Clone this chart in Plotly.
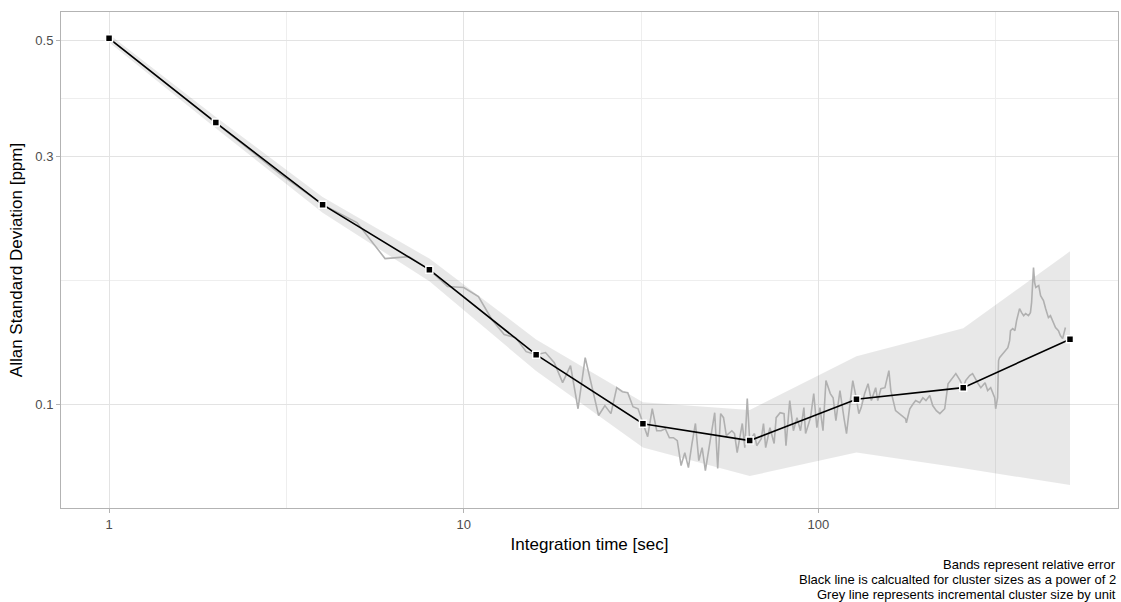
import plotly.graph_objects as go

# Black line: cluster sizes as power of 2
tau_pow2 = [1, 2, 4, 8, 16, 32, 64, 128, 256, 512]
adev_pow2 = [0.505, 0.348, 0.242, 0.1816, 0.1247, 0.0919, 0.0853, 0.1024, 0.1078, 0.1335]
rel_err = [0.018, 0.025, 0.035, 0.05, 0.07, 0.10, 0.145, 0.21, 0.30, 0.475]

# Grey line: incremental cluster size by unit
grey_tau = [1, 2, 3, 4, 5, 6, 7, 8, 9, 10, 11, 12, 13, 14, 15, 16, 17, 18, 19, 20,
            21, 22, 23, 24, 25, 26, 27, 28, 29, 30, 31, 32, 33, 34, 35, 36, 37, 38, 39, 40,
            41, 42, 43, 44, 45, 46, 47, 48, 51, 52, 53, 54, 55, 57, 58, 59, 61, 62, 63, 64,
            66, 67, 69, 70, 71, 73, 75, 76, 78, 80, 81, 83, 85, 87, 89, 91, 92, 95, 97, 99,
            101, 103, 105, 108, 110, 112, 115, 118, 120, 123, 125, 128, 130, 132, 135, 138, 141, 145, 147, 150,
            154, 158, 160, 165, 168, 171, 176, 177, 181, 185, 188, 193, 197, 201, 206, 210, 215, 220, 227, 232,
            236, 244, 251, 256, 260, 267, 272, 278, 282, 287, 295, 300, 306, 314, 316, 320, 322, 324, 331, 337,
            342, 346, 348, 353, 358, 362, 369, 374, 379, 384, 391, 396, 399, 404, 407, 410, 418, 423, 431, 437,
            445, 451, 460, 466, 475, 481, 488, 494, 497]
grey_adev = [0.505, 0.348, 0.279, 0.242, 0.2236, 0.1907, 0.1924, 0.1816, 0.1685, 0.1678, 0.1612, 0.1457, 0.1363, 0.1345, 0.1264, 0.1247, 0.1259, 0.1204, 0.1102, 0.1188,
             0.0982, 0.1231, 0.1078, 0.0953, 0.0996, 0.0961, 0.1078, 0.1059, 0.1054, 0.0991, 0.0982, 0.0919, 0.0868, 0.0982, 0.0891, 0.0891, 0.0899, 0.0864, 0.0864, 0.0853,
             0.0764, 0.0809, 0.0757, 0.0842, 0.0920, 0.0781, 0.0827, 0.0747, 0.0965, 0.0754, 0.0961, 0.0944, 0.0872, 0.0891, 0.0880, 0.0809, 0.0920, 0.0827, 0.1027, 0.0853,
             0.0880, 0.0834, 0.0860, 0.0920, 0.0827, 0.0903, 0.0842, 0.0944, 0.0965, 0.0961, 0.0834, 0.1018, 0.0891, 0.0944, 0.0891, 0.0987, 0.0880, 0.0944, 0.1050, 0.0903,
             0.0987, 0.0891, 0.1112, 0.1050, 0.1031, 0.0932, 0.1064, 0.0944, 0.0880, 0.1018, 0.1112, 0.1024, 0.0961, 0.0987, 0.1050, 0.1097, 0.1018, 0.1078, 0.1018, 0.1073,
             0.1078, 0.1162, 0.1064, 0.0974, 0.0965, 0.0953, 0.0940, 0.0923, 0.0982, 0.1004, 0.1018, 0.1009, 0.1031, 0.1018, 0.1041, 0.0996, 0.0974, 0.0961, 0.0982, 0.1097,
             0.1112, 0.1147, 0.1112, 0.1078, 0.1112, 0.1137, 0.1147, 0.1112, 0.1097, 0.1078, 0.1102, 0.1064, 0.1078, 0.1031, 0.0982, 0.1031, 0.1215, 0.1231, 0.1253, 0.1270,
             0.1286, 0.1327, 0.1387, 0.1400, 0.1387, 0.1450, 0.1529, 0.1502, 0.1482, 0.1496, 0.1482, 0.1502, 0.1570, 0.1833, 0.1715, 0.1678, 0.1692, 0.1619, 0.1584, 0.1529,
             0.1469, 0.1482, 0.1431, 0.1406, 0.1387, 0.1357, 0.1339, 0.1375, 0.1406]

x_ticks = [1, 10, 100]
x_tick_labels = ["1", "10", "100"]
x_minor = [3.1623, 31.623, 316.23]
y_ticks = [0.1, 0.3, 0.5]
y_tick_labels = ["0.1", "0.3", "0.5"]
y_minor = [0.1732, 0.3873]

caption = ["Bands represent relative error",
           "Black line is calcualted for cluster sizes as a power of 2",
           "Grey line represents incremental cluster size by unit"]

band_upper = [a * (1 + e) for a, e in zip(adev_pow2, rel_err)]
band_lower = [a * (1 - e) for a, e in zip(adev_pow2, rel_err)]

FONT = "Liberation Sans, Arial, sans-serif"

fig = go.Figure()
fig.add_trace(go.Scatter(x=tau_pow2, y=band_lower, mode="lines", line=dict(width=0),
                         hoverinfo="skip", showlegend=False))
fig.add_trace(go.Scatter(x=tau_pow2, y=band_upper, mode="lines", line=dict(width=0),
                         fill="tonexty", fillcolor="rgba(0,0,0,0.09)",
                         hoverinfo="skip", showlegend=False))
fig.add_trace(go.Scatter(x=grey_tau, y=grey_adev, mode="lines",
                         line=dict(color="#b0b0b0", width=1.6), showlegend=False))
fig.add_trace(go.Scatter(x=tau_pow2, y=adev_pow2, mode="lines",
                         line=dict(color="black", width=1.6), showlegend=False))
fig.add_trace(go.Scatter(x=tau_pow2, y=adev_pow2, mode="markers",
                         marker=dict(symbol="square", size=7, color="black",
                                     line=dict(color="white", width=1.5)),
                         showlegend=False))

axis_common = dict(
    showline=True, mirror=True, linecolor="#b3b3b3", linewidth=1,
    showgrid=True, gridcolor="#e3e3e3", gridwidth=1,
    ticks="outside", ticklen=4, tickcolor="#b3b3b3", tickwidth=1,
    tickfont=dict(family=FONT, size=13, color="#4d4d4d"),
    zeroline=False,
)

caption_y = [-0.113, -0.144, -0.174]
annotations = [dict(text=line, xref="paper", yref="paper",
                    x=1.0, y=yy, xanchor="right", yanchor="middle", align="right",
                    showarrow=False, font=dict(family=FONT, size=13, color="black"))
               for line, yy in zip(caption, caption_y)]

fig.update_layout(
    width=1121, height=602,
    margin=dict(l=61, r=3, t=12, b=94, autoexpand=False),
    paper_bgcolor="white", plot_bgcolor="white",
    font=dict(family=FONT),
    xaxis=dict(type="log", range=[-0.1355, 2.8446],
               tickmode="array", tickvals=x_ticks, ticktext=x_tick_labels,
               minor=dict(tickmode="array", tickvals=x_minor, showgrid=True,
                          gridcolor="#eeeeee", gridwidth=1, ticks=""),
               title=dict(text="Integration time [sec]", font=dict(family=FONT, size=17, color="black"),
                          standoff=7),
               **axis_common),
    yaxis=dict(type="log", range=[-1.1984, -0.2463],
               tickmode="array", tickvals=y_ticks, ticktext=y_tick_labels,
               minor=dict(tickmode="array", tickvals=y_minor, showgrid=True,
                          gridcolor="#eeeeee", gridwidth=1, ticks=""),
               title=dict(text="Allan Standard Deviation [ppm]", font=dict(family=FONT, size=17, color="black"),
                          standoff=8),
               **axis_common),
    annotations=annotations,
)

fig.write_html("out.html", config={"displayModeBar": False},
               post_script="document.body.style.margin='0';document.body.style.overflow='hidden';")
